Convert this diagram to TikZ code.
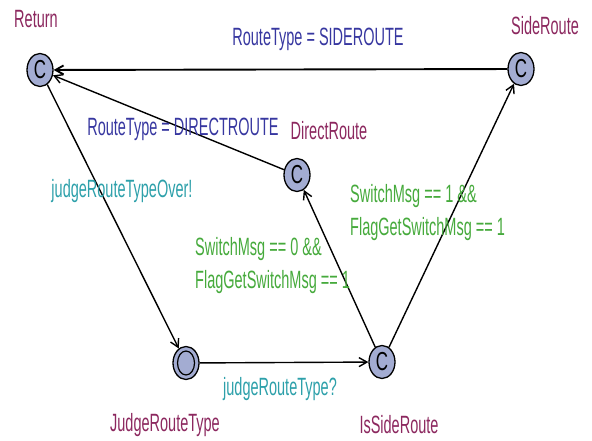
\documentclass[tikz,border=0pt]{standalone}
\usepackage{fontspec}
\setmainfont{Liberation Sans}[FakeStretch=0.58]
\newfontfamily\locfont{Liberation Sans}[FakeStretch=0.65]
\usepackage{tikz}
\usetikzlibrary{shapes.geometric, arrows.meta, positioning}

\definecolor{locfill}{RGB}{163,172,210}
\definecolor{locname}{RGB}{140,40,95}
\definecolor{assigncol}{RGB}{55,55,160}
\definecolor{synccol}{RGB}{45,160,170}
\definecolor{guardcol}{RGB}{70,170,60}

\begin{document}
\begin{tikzpicture}[
    x=1pt, y=-1pt,
    >={Straight Barb[length=8pt, width=9pt]},
    loc/.style={ellipse, draw, line width=1.3pt, fill=locfill, minimum width=26pt, minimum height=33pt, inner sep=0pt, font=\locfont\fontsize{26}{26}\selectfont},
    locname/.style={text=locname, font=\fontsize{25}{32}\selectfont},
    assign/.style={text=assigncol, font=\fontsize{25}{32}\selectfont},
    sync/.style={text=synccol, font=\fontsize{25}{32}\selectfont},
    guard/.style={text=guardcol, align=left, inner sep=0pt, font=\fontsize{25}{33}\selectfont},
    trans/.style={draw, line width=1.4pt, ->}
]
\useasboundingbox (0,0) rectangle (592,441);

% locations
\node[loc] (ret) at (40,70) {C};
\node[loc] (side) at (521,69) {C};
\node[loc] (direct) at (297,175) {C};
\node[loc] (judge) at (186,363) {};
\node[draw, line width=1.2pt, ellipse, minimum width=17pt, minimum height=24pt] (judgeinit) at (judge) {};
\node[loc] (isside) at (382,362) {C};

% location names
\node[locname] (retname) at (36,19) {Return};
\node[locname] (sidename) at (545,26) {SideRoute};
\node[locname] (directname) at (329,131) {DirectRoute};
\node[locname] (judgename) at (165,425) {JudgeRouteType};
\node[locname] (issidename) at (399,425) {IsSideRoute};

% transitions
\draw[trans, line width=1.9pt] (side) -- (ret);
\draw[trans] (direct) -- (ret);
\draw[trans] (ret) -- (judge);
\draw[trans] (judge) -- (isside);
\draw[trans] (isside) -- (direct);
\draw[trans] (isside) -- (side);

% labels
\node[assign] (a1) at (318,39) {RouteType = SIDEROUTE};
\node[assign] (a2) at (183,129) {RouteType = DIRECTROUTE};
\node[sync] (s1) at (122,191) {judgeRouteTypeOver!};
\node[sync] (s2) at (280,389) {judgeRouteType?};
\node[guard, anchor=west] (g1) at (195,266) {SwitchMsg == 0 \&\&\\FlagGetSwitchMsg == 1};
\node[guard, anchor=west] (g2) at (350,213) {SwitchMsg == 1 \&\&\\FlagGetSwitchMsg == 1};

\end{tikzpicture}
\end{document}
